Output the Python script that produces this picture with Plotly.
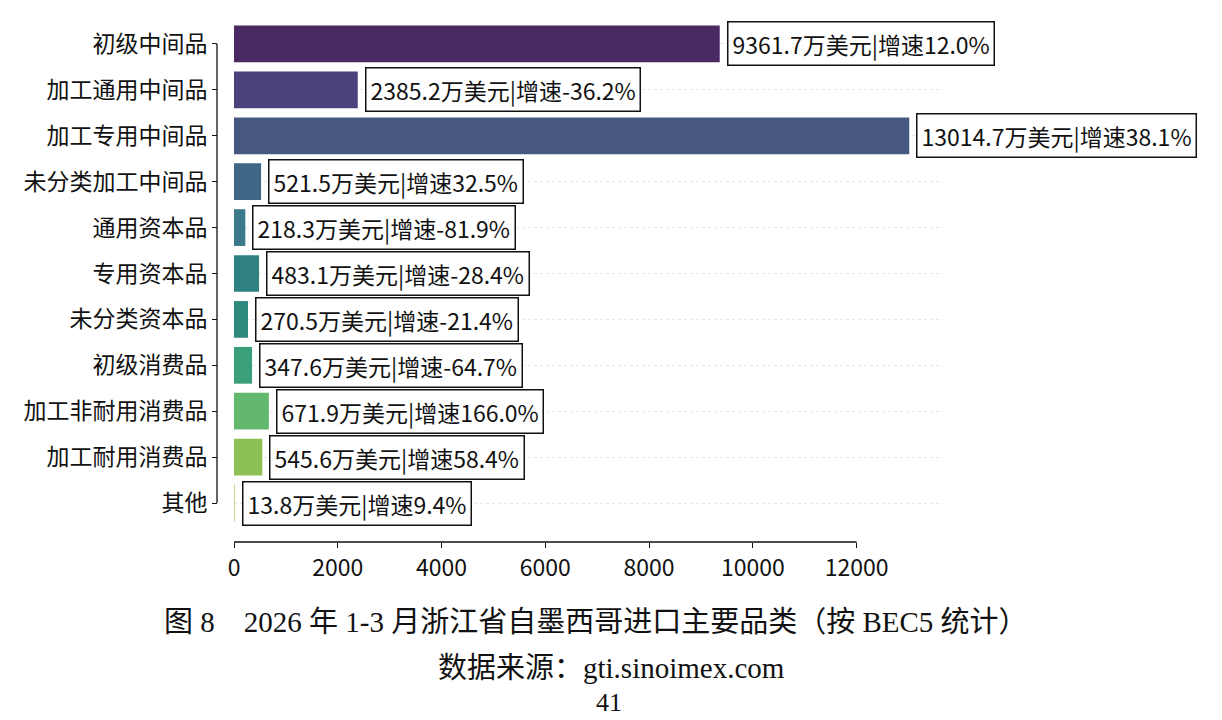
import plotly.graph_objects as go

categories = ["初级中间品", "加工通用中间品", "加工专用中间品", "未分类加工中间品", "通用资本品",
              "专用资本品", "未分类资本品", "初级消费品", "加工非耐用消费品", "加工耐用消费品", "其他"]
values = [9361.7, 2385.2, 13014.7, 521.5, 218.3, 483.1, 270.5, 347.6, 671.9, 545.6, 13.8]
growth = ["12.0%", "-36.2%", "38.1%", "32.5%", "-81.9%", "-28.4%", "-21.4%", "-64.7%", "166.0%", "58.4%", "9.4%"]
colors = ["#4b2a64", "#4b427d", "#46587f", "#3f6684", "#3a7a8a", "#2f8080",
          "#2e8a7e", "#3aa07a", "#62b86c", "#8dc153", "#c8d48a"]
x_ticks = [0, 2000, 4000, 6000, 8000, 10000, 12000]

caption = "图 8　2026 年 1-3 月浙江省自墨西哥进口主要品类（按 BEC5 统计）"
source = "数据来源：gti.sinoimex.com"
page_no = "41"

SANS = "Noto Sans CJK SC, Noto Sans, sans-serif"
SERIF = "Liberation Serif, Noto Sans CJK SC, serif"

fig = go.Figure()
fig.add_trace(go.Bar(
    x=values, y=categories, orientation="h",
    marker=dict(color=colors, line=dict(width=0)),
    width=0.8, showlegend=False, hoverinfo="skip",
))

for c, v, g in zip(categories, values, growth):
    fig.add_annotation(
        x=v, y=c, xref="x", yref="y", text=f"{v}万美元|增速{g}",
        showarrow=False, xanchor="left", yanchor="middle", xshift=7,
        font=dict(family=SANS, size=23, color="#111"),
        bgcolor="white", bordercolor="#111", borderwidth=1.5, borderpad=4,
    )

# trimmed spines
fig.add_shape(type="line", xref="x", yref="paper", x0=x_ticks[0], x1=x_ticks[-1], y0=0, y1=0,
              line=dict(color="#111", width=1.3))
fig.add_shape(type="line", xref="paper", yref="y", x0=0, x1=0, y0=categories[0], y1=categories[-1],
              line=dict(color="#111", width=1.3))

fig.add_annotation(x=0.522, y=-0.1536, xref="paper", yref="paper", text=caption, showarrow=False,
                   xanchor="center", yanchor="middle", font=dict(family=SERIF, size=29, color="#111"))
fig.add_annotation(x=0.543, y=-0.2418, xref="paper", yref="paper", text=source, showarrow=False,
                   xanchor="center", yanchor="middle", font=dict(family=SERIF, size=29, color="#111"))
fig.add_annotation(x=0.540, y=-0.309, xref="paper", yref="paper", text=page_no, showarrow=False,
                   xanchor="center", yanchor="middle", font=dict(family=SERIF, size=26, color="#111"))

fig.update_layout(
    width=1222, height=720,
    margin=dict(l=217, r=279, t=21, b=178),
    paper_bgcolor="white", plot_bgcolor="white",
    bargap=0.2,
    xaxis=dict(
        domain=[17 / 726, 1], range=[0, 13665], anchor="free", position=0,
        tickvals=x_ticks, ticktext=[str(t) for t in x_ticks],
        ticks="outside", ticklen=5, tickwidth=1.3, tickcolor="#111",
        showline=False, showgrid=False, zeroline=False,
        tickfont=dict(family=SANS, size=23, color="#111"),
    ),
    yaxis=dict(
        domain=[16 / 521, 1], type="category", categoryorder="array", categoryarray=categories,
        range=[10.5, -0.5], anchor="free", position=0,
        ticks="outside", ticklen=5, tickwidth=1.3, tickcolor="#111",
        showline=False, zeroline=False,
        showgrid=True, gridcolor="#e6e6e6", griddash="dot", gridwidth=1,
        tickfont=dict(family=SANS, size=23, color="#111"),
    ),
)

fig.write_html("out.html")
